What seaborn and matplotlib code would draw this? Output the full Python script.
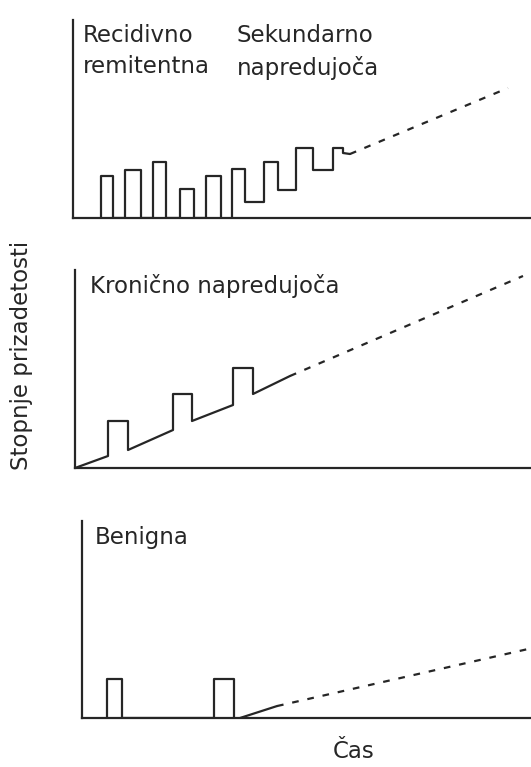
import numpy as np
import pandas as pd
import matplotlib
matplotlib.use('Agg')
import matplotlib.pyplot as plt
import seaborn as sns

# relapsing-remitting bars (panel 1)
rr_start = [28, 52, 80, 107, 133]
rr_end = [40, 68, 93, 121, 148]
rr_height = [42, 48, 56, 29, 42]
# secondary progressive
sp_x = [159, 159, 172, 172, 191, 191, 205, 205, 223, 223, 240, 240, 260, 260, 270, 270, 277]
sp_y = [0, 49, 49, 16, 16, 56, 56, 28, 28, 70, 70, 48, 48, 70, 70, 65, 64]
sp_dash_x = [277, 435]
sp_dash_y = [64, 130]

# chronic progressive (panel 2)
cp_x = [0, 33, 33, 53, 53, 98, 98, 117, 117, 158, 158, 178, 178, 215]
cp_y = [0, 12, 47, 47, 18, 38, 74, 74, 47, 63, 100, 100, 74, 92]
cp_dash_x = [215, 448]
cp_dash_y = [92, 192]

# benign (panel 3)
bn_start = [25, 132]
bn_end = [40, 152]
bn_height = [39, 39]
bn_x = [158, 195]
bn_y = [0, 12]
bn_dash_x = [195, 449]
bn_dash_y = [12, 70]

sns.set_style('white')
plt.rcParams['font.family'] = ['DejaVu Sans']

INK = '#262626'
LW = 1.6
FS = 16.5


def bars_path(starts, ends, heights):
    xs, ys = [], []
    for s, e, h in zip(starts, ends, heights):
        xs += [s, s, e, e]
        ys += [0, h, h, 0]
    return xs, ys


def draw(ax, x, y, dashed=False):
    sns.lineplot(x=x, y=y, sort=False, estimator=None, ax=ax, color=INK,
                 lw=LW, linestyle=(0, (3, 4)) if dashed else '-')


def style(ax, xmax):
    ax.set_xlim(0, xmax)
    ax.set_ylim(0, 198)
    sns.despine(ax=ax, top=True, right=True)
    for s in ['left', 'bottom']:
        ax.spines[s].set_color(INK)
        ax.spines[s].set_linewidth(LW)
    ax.set_xticks([])
    ax.set_yticks([])
    ax.set_xlabel('')
    ax.set_ylabel('')


W, H = 531, 767
fig = plt.figure(figsize=(W / 100, H / 100), dpi=100)

# panel 1
ax1 = fig.add_axes([73 / W, 1 - 218 / H, (W - 73) / W, 198 / H])
bx, by = bars_path(rr_start, rr_end, rr_height)
draw(ax1, bx, by)
draw(ax1, sp_x, sp_y)
draw(ax1, sp_dash_x, sp_dash_y, dashed=True)
style(ax1, W - 73)
ax1.text(10, 194, 'Recidivno\nremitentna', va='top', ha='left', fontsize=FS,
         color=INK, linespacing=1.45)
ax1.text(164, 194, 'Sekundarno\nnapredujoča', va='top', ha='left', fontsize=FS,
         color=INK, linespacing=1.45)

# panel 2
ax2 = fig.add_axes([75 / W, 1 - 468 / H, (W - 75) / W, 198 / H])
draw(ax2, cp_x, cp_y)
draw(ax2, cp_dash_x, cp_dash_y, dashed=True)
style(ax2, W - 75)
ax2.text(15, 194, 'Kronično napredujoča', va='top', ha='left', fontsize=FS, color=INK)

# panel 3
ax3 = fig.add_axes([82 / W, 1 - 718 / H, (W - 82) / W, 197 / H])
bx, by = bars_path(bn_start, bn_end, bn_height)
draw(ax3, bx, by)
draw(ax3, bn_x, bn_y)
draw(ax3, bn_dash_x, bn_dash_y, dashed=True)
style(ax3, W - 82)
ax3.text(13, 193, 'Benigna', va='top', ha='left', fontsize=FS, color=INK)

fig.text(22 / W, 1 - 355 / H, 'Stopnje prizadetosti', rotation=90,
         ha='center', va='center', fontsize=FS, color=INK)
fig.text(354 / W, 1 - 752 / H, 'Čas', ha='center', va='center', fontsize=FS, color=INK)

fig.savefig('out.png', dpi=100)
